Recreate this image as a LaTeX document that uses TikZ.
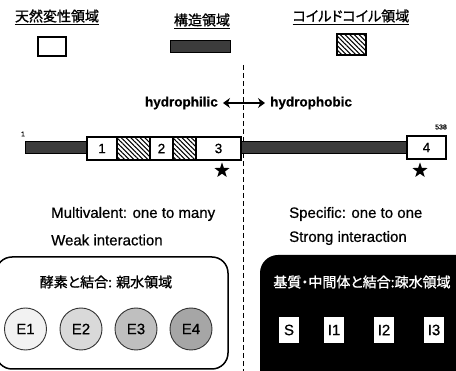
\documentclass[tikz,border=0pt]{standalone}
\usepackage{fontspec}
\setmainfont{Liberation Sans}[FakeBold=0.6]
\newfontfamily\jp[RawFeature=+palt,FakeBold=1.2]{Noto Sans CJK JP}
\usetikzlibrary{patterns.meta,shapes.geometric,arrows.meta}
\definecolor{bardark}{HTML}{3C3C3C}
\tikzset{
  white box/.style={draw=black,line width=1.5pt,fill=white},
  dark bar/.style={draw=black,line width=1pt,fill=bardark},
  hatch box/.style={draw=black,line width=1.5pt,fill=white,postaction={pattern={Lines[angle=-45,distance=3.3pt,line width=1.05pt]}}},
  num/.style={font=\fontsize{13.5}{15}\selectfont},
  starmark/.style={star,star points=5,star point ratio=2.5,fill=black,minimum size=16pt,inner sep=0pt},
  ecircle/.style={circle,draw=black!80,line width=0.9pt,minimum size=42pt,inner sep=0pt,font=\fontsize{15}{17}\selectfont},
  ibox/.style={fill=white,minimum width=20pt,minimum height=26pt,inner sep=0pt,font=\fontsize{15}{17}\selectfont},
  legtitle/.style={font=\jp\fontsize{14}{16}\selectfont,inner sep=0pt},
  body/.style={font=\fontsize{15}{17}\selectfont,anchor=west,inner sep=0pt},
}
\begin{document}
\begin{tikzpicture}[x=1pt,y=-1pt]
\useasboundingbox (0,0) rectangle (456,371);
% legend
\node[legtitle] (lt1) at (57,17) {\underline{天然変性領域}};
\node[legtitle] (lt2) at (202,21) {\underline{構造領域}};
\node[legtitle] (lt3) at (351,17) {\underline{コイルドコイル領域}};
\draw[white box] (38,37) rectangle (66,56);
\draw[dark bar] (170,41) rectangle (230,53);
\draw[hatch box] (337,34) rectangle (366,55);
% dashed divider
\coordinate (dtop) at (243.5,65);
\coordinate (dbot) at (243.5,375);
\draw[line width=1.2pt,dash pattern=on 5pt off 3pt] (dtop) -- (dbot);
% hydrophilic / hydrophobic
\node[font=\bfseries\fontsize{13.5}{16}\selectfont,anchor=east,inner sep=0pt] (hphil) at (218,103) {hydrophilic};
\node[font=\bfseries\fontsize{13.5}{16}\selectfont,anchor=west,inner sep=0pt] (hphob) at (270,103) {hydrophobic};
\draw[line width=2pt,{Stealth[length=7pt,width=10pt]}-{Stealth[length=7pt,width=10pt]}] ([xshift=5pt]hphil.east) -- ([xshift=-5pt]hphob.west);
% main bar
\draw[dark bar] (25,142) rectangle (410,154);
\draw[white box] (87,137) rectangle (117,160);
\draw[hatch box] (117,137) rectangle (150,160);
\draw[white box] (150,137) rectangle (173,160);
\draw[hatch box] (173,137) rectangle (196,160);
\draw[white box] (196,137) rectangle (241,160);
\draw[white box] (407,136) rectangle (446,159);
\node[num] (b1) at (102,148.5) {1};
\node[num] (b2) at (161.5,148.5) {2};
\node[num] (b3) at (218.5,148.5) {3};
\node[num] (b4) at (426.5,147.5) {4};
\node[font=\fontsize{7}{8}\selectfont] (n1) at (23,134) {1};
\node[font=\fontsize{7}{8}\selectfont] (n538) at (441,127) {538};
\node[starmark] (s1) at (222,170.5) {};
\node[starmark] (s2) at (420,170.5) {};
% descriptions
\node[body] (m1) at (51,214) {Multivalent: one to many};
\node[body] (m2) at (51,240) {Weak interaction};
\node[body] (p1) at (289,214) {Specific: one to one};
\node[body] (p2) at (289,238) {Strong interaction};
% left box
\draw[line width=1.5pt,rounded corners=16pt] (-4,257) rectangle (228,369);
\node[legtitle] (lb) at (106,282) {酵素と結合: 親水領域};
\node[ecircle,fill=black!5] (e1) at (25.5,329) {E1};
\node[ecircle,fill=black!15] (e2) at (81,329) {E2};
\node[ecircle,fill=black!25] (e3) at (136,329) {E3};
\node[ecircle,fill=black!35] (e4) at (191,329) {E4};
% right box
\fill[black,rounded corners=18pt] (260,255) rectangle (480,390);
\fill[black] (300,255) rectangle (460,371);
\node[legtitle,text=white] (rb) at (362,282) {基質・中間体と結合:疎水領域};
\node[ibox] (S) at (289,330) {S};
\node[ibox] (I1) at (334,330) {I1};
\node[ibox] (I2) at (384,330) {I2};
\node[ibox] (I3) at (434,330) {I3};
\end{tikzpicture}
\end{document}
